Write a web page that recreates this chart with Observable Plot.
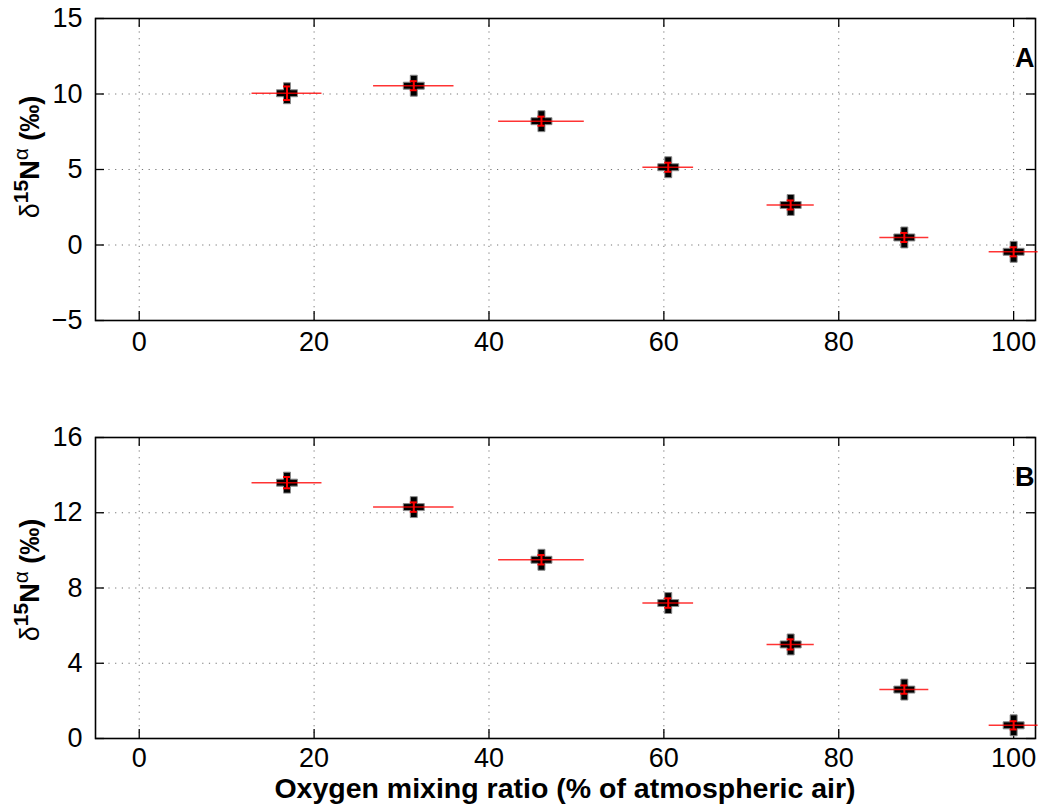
<!DOCTYPE html>
<html><head><meta charset="utf-8">
<script src="https://cdn.jsdelivr.net/npm/d3@7"></script>
<script src="https://cdn.jsdelivr.net/npm/@observablehq/plot@0.6"></script>
<style>
body{margin:0;background:#fff;}
#wrap{position:relative;width:1049px;height:805px;font-family:"Liberation Sans",Arial,sans-serif;color:#000;}
.panel{position:absolute;left:0;}
.ylab{position:absolute;transform:translate(-50%,-50%) rotate(-90deg);white-space:nowrap;font-size:27px;font-weight:bold;line-height:1;}
.ylab sup{font-size:0.78em;vertical-align:0.48em;line-height:0;}
.xlab{position:absolute;left:0;width:1049px;padding-left:81px;box-sizing:border-box;text-align:center;font-size:28.5px;font-weight:bold;white-space:nowrap;line-height:26px;}
</style></head><body><div id="wrap"></div>
<script>
// ---- data ----
const oxygen    = [16.9, 31.4, 46.0, 60.5, 74.5, 87.5, 100.0];
const oxygenErr = [4.0, 4.6, 4.9, 2.9, 2.7, 2.8, 2.8];
const deltaA    = [10.05, 10.55, 8.2, 5.15, 2.65, 0.5, -0.45];
const deltaAErr = [0.45, 0.3, 0.3, 0.3, 0.3, 0.3, 0.3];
const deltaB    = [13.6, 12.3, 9.5, 7.2, 5.0, 2.6, 0.7];
const deltaBErr = [0.3, 0.25, 0.25, 0.25, 0.27, 0.22, 0.22];
const xTicks  = [0, 20, 40, 60, 80, 100];
const yTicksA = [-5, 0, 5, 10, 15];
const yTicksB = [0, 4, 8, 12, 16];
const panelLabels = ["A", "B"];
const xTitle = "Oxygen mixing ratio (% of atmospheric air)";

const wrap = document.getElementById("wrap");
const W = 1049, mL = 95, mR = 14, mT = 18, mB = 40;

function panel(vals, errs, yTicks, label, top, height, pad) {
  const rows = oxygen.map((x, i) => ({x, xe: oxygenErr[i], y: vals[i], ye: errs[i]}));
  const fh = height - mT - mB, fw = W - mL - mR;
  const tick = 9;
  const p = Plot.plot({
    width: W, height,
    marginLeft: mL, marginRight: mR, marginTop: mT, marginBottom: mB,
    style: {fontFamily: "'Liberation Sans', Arial, sans-serif", fontSize: "27px", background: "white", color: "black"},
    x: {domain: [-5, 102.5], label: null},
    y: {domain: [yTicks[0], yTicks[yTicks.length - 1]], label: null},
    marks: [
      Plot.gridX(xTicks, {stroke: "#000", strokeOpacity: 0.55, strokeDasharray: "1.2,5.5", strokeWidth: 1}),
      Plot.gridY(yTicks, {stroke: "#000", strokeOpacity: 0.55, strokeDasharray: "1.2,5.5", strokeWidth: 1}),
      Plot.axisX(xTicks, {tickSize: 0, tickPadding: pad, label: null, fontSize: 27}),
      Plot.axisY(yTicks, {tickSize: 0, tickPadding: 13, label: null, fontSize: 27}),
      Plot.tickX(xTicks, {x: d => d, insetTop: fh - tick, stroke: "black", strokeWidth: 1.3}),
      Plot.tickX(xTicks, {x: d => d, insetBottom: fh - tick, stroke: "black", strokeWidth: 1.3}),
      Plot.tickY(yTicks, {y: d => d, insetRight: fw - tick, stroke: "black", strokeWidth: 1.3}),
      Plot.tickY(yTicks, {y: d => d, insetLeft: fw - tick, stroke: "black", strokeWidth: 1.3}),
      Plot.frame({stroke: "black", strokeWidth: 1.6}),
      Plot.dot(rows, {x: "x", y: "y", symbol: "cross", r: 8.8, fill: "black", stroke: "#8a8a8a", strokeWidth: 1}),
      Plot.ruleY(rows, {y: "y", x1: d => d.x - d.xe, x2: d => d.x + d.xe, stroke: "#ff0000", strokeOpacity: 0.8, strokeWidth: 1.5}),
      Plot.ruleX(rows, {x: "x", y1: d => d.y - d.ye, y2: d => d.y + d.ye, stroke: "#ff0000", strokeWidth: 2}),
      Plot.ruleY(rows, {y: d => d.y - d.ye, x1: "x", x2: "x", insetLeft: -3.5, insetRight: -3.5, stroke: "#ff0000", strokeWidth: 2}),
      Plot.ruleY(rows, {y: d => d.y + d.ye, x1: "x", x2: "x", insetLeft: -3.5, insetRight: -3.5, stroke: "#ff0000", strokeWidth: 2}),
      Plot.text([label], {text: d => d, frameAnchor: "top-right", dx: -1, dy: 29, lineAnchor: "top", textAnchor: "end", fontWeight: "bold", fontSize: 27, fill: "black"})
    ]
  });
  p.classList.add("panel");
  p.style.top = top + "px";
  wrap.appendChild(p);
}

panel(deltaA, deltaAErr, yTicksA, panelLabels[0], 0, 360, 11);
panel(deltaB, deltaBErr, yTicksB, panelLabels[1], 419, 359, 9);

function ylab(cy) {
  const d = document.createElement("div");
  d.className = "ylab";
  d.style.left = "30px";
  d.style.top = cy + "px";
  d.innerHTML = '<span style="font-weight:normal">\u03b4</span><sup>15</sup>N<sup style="font-weight:normal">\u03b1</sup> (\u2030)';
  wrap.appendChild(d);
}
ylab(157);
ylab(580);

const xl = document.createElement("div");
xl.className = "xlab";
xl.style.top = "775px";
xl.textContent = xTitle;
wrap.appendChild(xl);
</script>
</body></html>
